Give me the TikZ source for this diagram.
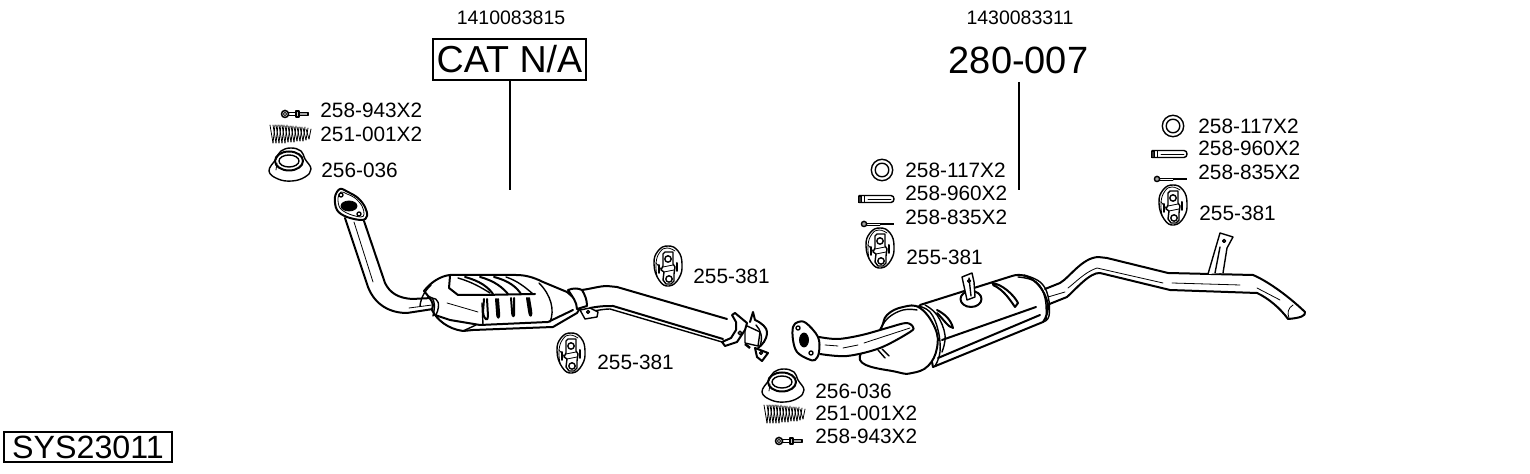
\documentclass[tikz,border=0pt]{standalone}
\usepackage{fontspec}
\setmainfont{Liberation Sans}
\newcommand{\fsz}[1]{\fontsize{#1}{#1}\selectfont}
\tikzset{
  lab/.style={anchor=west,inner sep=0pt,font=\fsz{10.4}},
  hd/.style={inner sep=0pt,font=\fsz{9.75}},
  heavy/.style={line width=1pt,line join=round,line cap=round},
  med/.style={line width=0.7pt,line join=round,line cap=round},
  fine/.style={line width=0.4pt,line join=round,line cap=round},
  leader/.style={line width=0.6pt},
  pics/hanger/.style={code={
    \draw[med,fill=white] plot[smooth cycle,tension=0.8] coordinates {(-14,-2)(-10,-15)(0,-20)(10,-15)(14,-2)(11,12)(1,20)(-9,14)};
    \draw[fine] plot[smooth,tension=0.8] coordinates {(-11,10)(-12,-3)(-8,-14)(-1,-18)(7,-15)};
    \draw[med] (-5,-12)--(-3,-14)--(5,-14)--(5,-2)--(7,1)--(6,8)--(6,15)--(3,18)--(-2,18)--(-5,14)--(-4,6)--(-7,4)--(-5,0)--cycle;
    \draw[fine] (-4,6)--(6,4);
    \draw[fine] (-5,1)--(5,-1);
    \draw[med] (0,-7) circle[radius=3.2];
    \draw[med] (1,13) circle[radius=3.2];
    \draw[heavy] (-9,-1)--(-9,7);
    \draw[heavy] (9,-3)--(9,5);
    \draw[fine] (-12,-3)--(-7,3);
  }},
  pics/gasket/.style={code={
    \draw[med,fill=white] plot[smooth cycle,tension=0.7] coordinates {(-21,6)(-14,-6)(-9,-14)(1,-17)(11,-14)(15,-6)(21,4)(15,12)(2,16)(-12,14)};
    \draw[heavy] (-1,-4) ellipse[x radius=14,y radius=9.5];
    \draw[med] (-1,-4) ellipse[x radius=10,y radius=6];
    \draw[fine] (-13,-2)--(-14,5);
  }},
  pics/coil/.style={code={
    \foreach \k/\h in {-20/9,-17/9,-14/9,-11/9,-8/9,-5/8,-2/8,1/8,4/7,7/7,10/7,13/6,16/5}{
      \draw[fine] (\k,-\h)--(\k+3,\h);
      \draw[fine] (\k+3,\h)--(\k+5,-\h);
    }
  }},
  pics/shortbolt/.style={code={
    \draw[med,fill=gray!60] (0,0) circle[radius=3.6];
    \draw[fine,fill=white] (0,0) circle[radius=1.6];
    \draw[med] (3.5,-1.4)--(11,-1.4);
    \draw[med] (3.5,1.4)--(11,1.4);
    \draw[med,fill=gray!40] (11,-3)rectangle(14,3);
    \draw[med,fill=gray!70] (14,-1.5)rectangle(23,1.5);
  }},
  pics/ringseal/.style={code={
    \draw[med] (0,0) circle[radius=10.7];
    \draw[med] (0,0) circle[radius=6.8];
  }},
  pics/pinseal/.style={code={
    \draw[med,fill=white] (-17,-3.5)--(15,-3.5) .. controls (19,-3.5) and (19,3.5) .. (15,3.5)--(-17,3.5)--cycle;
    \draw[line width=0.3pt,fill=black!80] (-18,-3) rectangle (-15,3);
    \draw[fine] (-8,0)--(15,0);
    \draw[fine] (-12,-3.5)--(-12,3.5);
  }},
  pics/longbolt/.style={code={
    \draw[med,fill=gray!70] (0,0) circle[radius=2.6];
    \draw[fine] (2.5,-1)--(16,-1);
    \draw[fine] (2.5,1)--(16,1);
    \draw[line width=1.1pt] (16,0)--(30,0);
  }},
}
\begin{document}
\begin{tikzpicture}[x=0.5pt,y=-0.5pt]
\useasboundingbox (0,0) rectangle (1530,474);
% ---- headings
\node[hd] (num1) at (511,18) {1410083815};
\node[hd] (num2) at (1020,18) {1430083311};
\node[draw,line width=0.6pt,inner sep=0pt,minimum width=76.5pt,minimum height=20.5pt,font=\fsz{18.8}] (cat) at (509.5,59.5) {CAT N/A};
\node[inner sep=0pt,font=\fsz{19}] (sys) at (1018.5,60) {280-007};
\node[draw,line width=0.6pt,inner sep=0pt,minimum width=84pt,minimum height=15pt,font=\fsz{16.1}] (code) at (88,447) {SYS23011};
\coordinate (catend) at (510,190);
\coordinate (sysstart) at (1019,82);
\coordinate (sysend) at (1019,190);
\draw[leader] (cat.south -| catend) -- (catend);
\draw[leader] (sysstart) -- (sysend);
% ---- part labels
\node[lab] (a1) at (320,110) {258-943X2};
\node[lab] (a2) at (320,134) {251-001X2};
\node[lab] (a3) at (321,170) {256-036};
\node[lab] (b1) at (693,276) {255-381};
\node[lab] (b2) at (597,362) {255-381};
\node[lab] (c1) at (815,391) {256-036};
\node[lab] (c2) at (815,413) {251-001X2};
\node[lab] (c3) at (815,436) {258-943X2};
\node[lab] (d1) at (905,170) {258-117X2};
\node[lab] (d2) at (905,193) {258-960X2};
\node[lab] (d3) at (905,217) {258-835X2};
\node[lab] (d4) at (906,257) {255-381};
\node[lab] (e1) at (1198,126) {258-117X2};
\node[lab] (e2) at (1198,148) {258-960X2};
\node[lab] (e3) at (1198,172) {258-835X2};
\node[lab] (e4) at (1199,213) {255-381};
% ---- small parts
\pic at (285,114) {shortbolt};
\pic at (290,134) {coil};
\pic at (290,165) {gasket};
\pic at (668,266) {hanger};
\pic at (571,353) {hanger};
\pic at (880,248) {hanger};
\pic at (1173,205) {hanger};
\pic at (783,386) {gasket};
\pic at (784,414) {coil};
\pic at (779,441) {shortbolt};
\pic at (882,170) {ringseal};
\pic at (876,199) {pinseal};
\pic at (864,224) {longbolt};
\pic at (1173,126) {ringseal};
\pic at (1169,154) {pinseal};
\pic at (1157,179) {longbolt};
% ---- downpipe with flange
\draw[heavy] (345,218) -- (368,287) .. controls (375,305) and (390,313) .. (407,313) -- (433,309);
\draw[heavy] (364,221) -- (385,283) .. controls (390,293) and (398,298) .. (412,299) -- (432,298);
\draw[fine] (354,222)--(373,282);
\draw[fine] (409,308)--(432,305);
\draw[heavy,fill=white] plot[smooth cycle,tension=0.6] coordinates {(340,189)(335,197)(337,210)(347,217)(362,220)(367,216)(365,207)(358,198)(348,192)};
\draw[fine] plot[smooth cycle,tension=0.6] coordinates {(341,192)(338,198)(340,208)(349,214)(361,217)(364,214)(362,206)(355,198)(347,194)};
\draw[fill=black] (349,206) ellipse[x radius=8,y radius=5];
\draw[med] (341,195) circle[radius=2];
\draw[med] (359,214) circle[radius=2];
% ---- catalyst
\draw[heavy,fill=white] (432,310) .. controls (437,320) and (448,329) .. (463,331) -- (473,330)
  -- (553,327) -- (577,313) -- (582,305) -- (567,292) -- (543,282)
  .. controls (533,277) and (525,275) .. (516,275) -- (450,275)
  .. controls (440,276) and (430,283) .. (424,291)
  .. controls (428,296) and (432,300) .. (433,305) -- cycle;
\draw[med] (420,306) .. controls (421,297) and (425,291) .. (431,285);
\draw[med] (428,296) .. controls (434,297) and (436,304) .. (433,316);
\draw[med] (432,298) .. controls (438,298) and (441,304) .. (436,315);
\draw[fine] (447,303)--(478,312);
\draw[heavy] (435,315) -- (450,320) -- (480,325) -- (548,322) -- (573,310);
\draw[med] (463,331) -- (476,325);
\draw[med] (539,283) .. controls (551,295) and (555,310) .. (550,322);
% ribs
\draw[heavy] (450,276)--(449,288)--(458,295)--(482,295)--(535,294);
\draw[med] (458,278) .. controls (472,282) and (482,288) .. (490,293);
\draw[heavy] (465,277) .. controls (480,281) and (488,287) .. (493,294);
\draw[heavy] (480,277) .. controls (495,281) and (503,288) .. (508,294);
\draw[heavy] (494,277) .. controls (510,281) and (517,288) .. (521,294);
\draw[med] (506,277) .. controls (518,281) and (526,288) .. (533,294);
\draw[heavy] (484,299) -- (483,312) .. controls (484,320) and (488,322) .. (488,316) -- (487,299);
\draw[heavy] (496,299) -- (497,312) .. controls (497,320) and (500,319) .. (499,312) -- (498,299);
\draw[heavy] (511,298) -- (512,311) .. controls (512,318) and (515,318) .. (514,311) -- (514,298);
\draw[heavy] (527,298) -- (529,311) .. controls (530,318) and (532,317) .. (531,310) -- (529,298);
\draw[med] (482,303)--(483,325);
% ---- collar and middle pipe
\draw[heavy,fill=white] (568,290) .. controls (573,288) and (578,288) .. (582,290) .. controls (585,295) and (587,300) .. (587,306) -- (577,309) .. controls (577,302) and (572,296) .. (568,290);
\draw[heavy] (582,290) .. controls (595,288) and (600,286) .. (607,286) -- (617,287) -- (727,319);
\draw[heavy] (590,308) .. controls (600,306) and (607,306) .. (613,306) -- (723,339);
\draw[med] (593,311) .. controls (600,310) and (605,309) .. (610,309) -- (722,342);
\draw[med,fill=white] (580,310)--(585,319)--(597,317)--(598,312)--(590,308)--cycle;
\draw[med] (588,312) circle[radius=1.5];
% ---- clamp
\draw[med,fill=white] (745,325)--(760,332)--(758,346)--(745,343)--cycle;
\draw[heavy] (750,322)--(753,312)--(755,320) .. controls (762,323) and (767,328) .. (767,332) .. controls (767,340) and (762,345) .. (758,348);
\draw[med] (756,325) .. controls (761,330) and (763,338) .. (760,346);
\draw[heavy,fill=white] (732,315)--(735,313)--(747,323)--(745,330)--(737,342)--(725,346)--(722,342)--(731,338)--(736,330)--(736,322)--cycle;
\draw[med] (740,333) circle[radius=1.8];
\draw[line width=1.2pt] (745,344)--(750,348);
\draw[heavy,fill=white] (755,348)--(768,353)--(762,361)--(757,357)--cycle;
\draw[med] (761,353) circle[radius=1.5];
% ---- rear silencer
\draw[heavy,fill=white] (920,305) -- (1012,276) .. controls (1030,270) and (1047,290) .. (1048,307) .. controls (1048,312) and (1046,318) .. (1043,322) -- (933,367) -- cycle;
\draw[heavy,fill=white] plot[smooth cycle,tension=0.7] coordinates {(880,330)(887,315)(903,307)(920,308)(935,328)(937,348)(928,366)(912,373)(897,372)(860,360)};
\draw[med] plot[smooth,tension=0.7] coordinates {(880,330)(888,318)(903,310)(917,310)};
\draw[med] plot[smooth,tension=0.7] coordinates {(918,306)(930,312)(938,330)(940,352)(935,366)};
\draw[med] plot[smooth,tension=0.7] coordinates {(925,305)(937,315)(945,335)(942,352)};
\draw[heavy] (938,358)--(1040,315);
\draw[med] plot[smooth,tension=0.7] coordinates {(1018,277)(1036,282)(1045,298)(1046,320)};
\draw[med] plot[smooth,tension=0.7] coordinates {(1024,275)(1040,282)(1048,296)(1049,316)(1043,322)};
\draw[heavy] (942,340)--(1036,307);
\draw[heavy] (937,310) .. controls (945,314) and (951,320) .. (953,328) .. controls (948,327) and (944,320) .. (937,313);
\draw[heavy] (992,283) .. controls (1002,284) and (1014,295) .. (1018,303) -- (1015,307) .. controls (1010,300) and (1004,290) .. (993,285);
% muffler mount
\draw[heavy,fill=white] (971,299) ellipse[x radius=10.5,y radius=8];
\draw[med,fill=white] (962,277)--(972,273)--(974,282)--(975,297)--(967,300)--cycle;
\draw[med] (969,278)--(971,296);
\draw[med] (969,281) circle[radius=1.5];
% front inlet
\draw[heavy,fill=white] plot[smooth,tension=0.55] coordinates {(819,337)(838,339)(862,335)(887,328)(906,323)(913,327)(910,332)(880,348)(847,356)(820,354)};
\draw[fine] (825,345)--(838,346);
\draw[fine] (843,348)--(858,345);
\draw[fine] (864,343)--(910,328);
\draw[med] (878,350)--(885,358);
\draw[med] (882,349)--(889,356);
\draw[heavy,fill=white] plot[smooth cycle,tension=0.6] coordinates {(793,327)(798,322)(806,323)(818,337)(819,352)(815,360)(808,359)(797,352)(793,340)};
\draw[fill=black] (804,340) ellipse[x radius=4.5,y radius=7];
\draw[med] (798,328) circle[radius=2];
\draw[med] (811,353) circle[radius=2];
% ---- tail pipe
\draw[heavy] (1045,289) -- (1060,283) .. controls (1070,277) and (1082,258) .. (1098,257) -- (1107,258) -- (1168,273) -- (1253,275) .. controls (1265,280) and (1285,293) .. (1305,312);
\draw[heavy] (1047,305) -- (1067,297) .. controls (1075,290) and (1090,272) .. (1100,273) -- (1170,290) -- (1257,293) .. controls (1268,298) and (1280,308) .. (1288,319);
\draw[heavy] (1305,312) .. controls (1306,316) and (1300,318) .. (1288,319);
\draw[fine] (1048,297)--(1065,292);
\draw[fine] (1068,288) .. controls (1076,282) and (1085,272) .. (1097,268) -- (1163,283);
\draw[fine] (1172,283)--(1240,285);
\draw[fine] (1257,288)--(1280,300);
\draw[fine] (1293,305) .. controls (1288,308) and (1287,313) .. (1289,318);
\draw[med,fill=white] (1208,274)--(1215,250)--(1220,233)--(1233,237)--(1227,248)--(1223,273);
\draw[med] (1215,273)--(1220,247);
\draw[med] (1224,241) circle[radius=1.5];
\end{tikzpicture}
\end{document}
